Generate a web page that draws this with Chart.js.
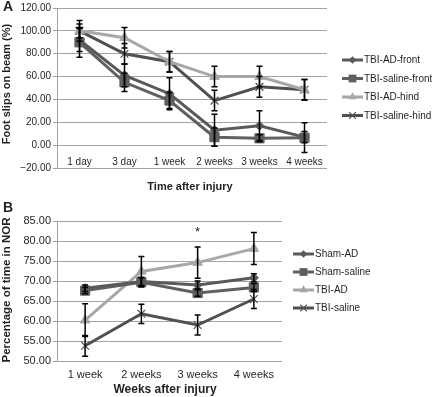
<!DOCTYPE html>
<html><head><meta charset="utf-8">
<script src="https://cdn.jsdelivr.net/npm/chart.js@4"></script>
<style>
html,body{margin:0;padding:0;background:#fff;}
#wrap{position:relative;width:432px;height:397px;overflow:hidden;}
#ca{position:absolute;left:0;top:0;}
#cb{position:absolute;left:0;top:200px;}
</style></head><body><div id="wrap"><canvas id="ca" width="432" height="200"></canvas><canvas id="cb" width="432" height="197"></canvas></div>
<script>
// ---------- Panel A data ----------
const catsA = ['1 day', '3 day', '1 week', '2 weeks', '3 weeks', '4 weeks'];
const labelsA = ['TBI-AD-front', 'TBI-saline-front', 'TBI-AD-hind', 'TBI-saline-hind'];
const tbiAdFront = [92, 61, 45, 13, 17, 7];
const tbiAdFrontErr = [10, 10, 14, 14, 13, 5];
const tbiSalineFront = [90, 55, 39, 7, 6, 6.5];
const tbiSalineFrontErr = [13, 8, 7, 8, 3, 13];
const tbiAdHind = [100, 94, 73, 60, 60, 48.5];
const tbiAdHindErr = [6, 9, 9, 9, 9, 9];
const tbiSalineHind = [100, 80, 73, 39, 51, 48.5];
const tbiSalineHindErr = [9, 9, 9, 9, 9, 9];
const yTicksA = [-20, 0, 20, 40, 60, 80, 100, 120];

// ---------- Panel B data ----------
const catsB = ['1 week', '2 weeks', '3 weeks', '4 weeks'];
const labelsB = ['Sham-AD', 'Sham-saline', 'TBI-AD', 'TBI-saline'];
const shamAd = [68.2, 69.9, 69.0, 70.8];
const shamAdErr = [0.8, 1.0, 1.0, 1.0];
const shamSaline = [67.6, 69.7, 67.0, 68.4];
const shamSalineErr = [0.8, 1.2, 0.8, 1.0];
const tbiAd = [60.2, 72.4, 74.6, 78.1];
const tbiAdErr = [4.1, 3.7, 3.9, 4.0];
const tbiSaline = [53.8, 61.8, 59.0, 65.5];
const tbiSalineErr = [2.6, 2.4, 2.5, 2.4];
const yTicksB = [50, 55, 60, 65, 70, 75, 80, 85];
const sigMarksB = [{cat: '3 weeks', value: 82.8, text: '*'}];

// ---------- styles ----------
const C_DIAMOND = '#5a5a5a', C_SQUARE = '#606060', C_TRI = '#a7a7a7', C_X = '#505050';
const TXT = '#231f20';
const GRID = '#a3a3a3';
const FONT = '"Liberation Sans", Arial, sans-serif';

function fmtTick(v) {
  const s = Math.abs(v).toFixed(2);
  return v < 0 ? '\u2212' + s : s;
}

function ds(label, data, err, color, style, radius, bw) {
  return {
    label, data, err,
    borderColor: color, backgroundColor: color,
    pointStyle: style, pointRadius: radius, pointHoverRadius: radius,
    pointBorderColor: color, pointBackgroundColor: color,
    pointBorderWidth: bw || 1,
    borderWidth: 3, tension: 0, fill: false
  };
}

function drawMarker(ctx, style, x, y, r, color) {
  ctx.save();
  ctx.fillStyle = color; ctx.strokeStyle = color; ctx.lineWidth = 1;
  ctx.beginPath();
  if (style === 'rectRot') {
    ctx.moveTo(x, y - r); ctx.lineTo(x + r, y); ctx.lineTo(x, y + r); ctx.lineTo(x - r, y); ctx.closePath(); ctx.fill();
  } else if (style === 'rect') {
    const s = r * Math.SQRT1_2; ctx.rect(x - s, y - s, 2 * s, 2 * s); ctx.fill();
  } else if (style === 'triangle') {
    ctx.moveTo(x, y - r); ctx.lineTo(x + r * 0.866, y + r * 0.5); ctx.lineTo(x - r * 0.866, y + r * 0.5); ctx.closePath(); ctx.fill();
  } else if (style === 'crossRot') {
    const s = r * Math.SQRT1_2; ctx.lineWidth = 1.2;
    ctx.moveTo(x - s, y - s); ctx.lineTo(x + s, y + s); ctx.moveTo(x + s, y - s); ctx.lineTo(x - s, y + s); ctx.stroke();
  }
  ctx.restore();
}

const panelPlugin = {
  id: 'panel',
  afterDatasetsDraw(chart) {
    const ctx = chart.ctx, ys = chart.scales.y;
    ctx.save();
    ctx.strokeStyle = '#000'; ctx.lineWidth = 1.5;
    chart.data.datasets.forEach((d, i) => {
      const meta = chart.getDatasetMeta(i);
      d.data.forEach((v, j) => {
        const e = d.err[j]; if (!e) return;
        const x = meta.data[j].x;
        const t = ys.getPixelForValue(v + e), b = ys.getPixelForValue(v - e);
        ctx.beginPath();
        ctx.moveTo(x, t); ctx.lineTo(x, b);
        ctx.moveTo(x - 3, t); ctx.lineTo(x + 3, t);
        ctx.moveTo(x - 3, b); ctx.lineTo(x + 3, b);
        ctx.stroke();
      });
    });
    ctx.restore();
  },
  afterDraw(chart, args, opts) {
    const ctx = chart.ctx;
    // legend
    const lg = opts.legend;
    chart.data.datasets.forEach((d, i) => {
      const y = lg.y + i * lg.dy;
      ctx.save();
      ctx.strokeStyle = d.borderColor; ctx.lineWidth = 3;
      ctx.beginPath(); ctx.moveTo(lg.x, y); ctx.lineTo(lg.x + 21, y); ctx.stroke();
      ctx.restore();
      drawMarker(ctx, d.pointStyle, lg.x + 10.5, y, d.pointRadius * 0.85, d.borderColor);
      ctx.save();
      ctx.fillStyle = TXT; ctx.font = '10px ' + FONT; ctx.textBaseline = 'middle'; ctx.textAlign = 'left';
      ctx.fillText(d.label, lg.x + 22, y + 0.5);
      ctx.restore();
    });
    // significance marks
    (opts.sig || []).forEach(m => {
      const x = chart.scales.x.getPixelForValue(chart.data.labels.indexOf(m.cat));
      const y = chart.scales.y.getPixelForValue(m.value);
      ctx.save();
      ctx.fillStyle = TXT; ctx.font = '13px ' + FONT; ctx.textAlign = 'center'; ctx.textBaseline = 'middle';
      ctx.fillText(m.text, x, y + 3);
      ctx.restore();
    });
    // texts
    (opts.texts || []).forEach(t => {
      ctx.save();
      ctx.fillStyle = TXT; ctx.font = t.font; ctx.textAlign = t.align || 'center'; ctx.textBaseline = 'middle';
      ctx.translate(t.x, t.y);
      if (t.rot) ctx.rotate(t.rot);
      ctx.fillText(t.text, 0, 0);
      ctx.restore();
    });
  }
};

Chart.defaults.font.family = FONT;
Chart.defaults.font.size = 10;
Chart.defaults.color = TXT;

// ---------- Chart A ----------
new Chart(document.getElementById('ca'), {
  type: 'line',
  data: {
    labels: catsA,
    datasets: [
      ds(labelsA[0], tbiAdFront, tbiAdFrontErr, C_DIAMOND, 'rectRot', 4.5),
      ds(labelsA[1], tbiSalineFront, tbiSalineFrontErr, C_SQUARE, 'rect', 6.5),
      ds(labelsA[2], tbiAdHind, tbiAdHindErr, C_TRI, 'triangle', 5.5),
      ds(labelsA[3], tbiSalineHind, tbiSalineHindErr, C_X, 'crossRot', 5.5, 1.2)
    ]
  },
  options: {
    responsive: false, animation: false, devicePixelRatio: 1,
    layout: {padding: {left: 0, right: 105, top: 7, bottom: 32}},
    plugins: {
      legend: {display: false}, tooltip: {enabled: false},
      panel: {
        legend: {x: 342, y: 60, dy: 18.5},
        texts: [
          {text: 'A', x: 8, y: 7, font: 'bold 14px ' + FONT},
          {text: 'Foot slips on beam (%)', x: 7, y: 84, rot: -Math.PI / 2, font: 'bold 11px ' + FONT},
          {text: 'Time after injury', x: 190, y: 187, font: 'bold 11px ' + FONT}
        ]
      }
    },
    scales: {
      x: {
        type: 'category', offset: true,
        position: {y: 0},
        grid: {display: false, drawTicks: true, tickLength: 8},
        border: {display: false},
        ticks: {padding: 3, color: TXT, font: {size: 10}, maxRotation: 0, autoSkip: false}
      },
      y: {
        min: -20, max: 120,
        afterBuildTicks: s => { s.ticks = yTicksA.map(v => ({value: v})); },
        afterFit: s => { s.width = 57; },
        grid: {color: GRID, lineWidth: 1, tickLength: 4},
        border: {display: true, color: GRID},
        ticks: {padding: 2, color: TXT, font: {size: 10}, callback: v => fmtTick(v)}
      }
    }
  },
  plugins: [panelPlugin]
});

// ---------- Chart B ----------
new Chart(document.getElementById('cb'), {
  type: 'line',
  data: {
    labels: catsB,
    datasets: [
      ds(labelsB[0], shamAd, shamAdErr, C_DIAMOND, 'rectRot', 4.5),
      ds(labelsB[1], shamSaline, shamSalineErr, C_SQUARE, 'rect', 6.5),
      ds(labelsB[2], tbiAd, tbiAdErr, C_TRI, 'triangle', 5.5),
      ds(labelsB[3], tbiSaline, tbiSalineErr, C_X, 'crossRot', 5.5, 1.2)
    ]
  },
  options: {
    responsive: false, animation: false, devicePixelRatio: 1,
    layout: {padding: {left: 0, right: 150, top: 21, bottom: 0}},
    plugins: {
      legend: {display: false}, tooltip: {enabled: false},
      panel: {
        legend: {x: 293, y: 54, dy: 18},
        sig: sigMarksB,
        texts: [
          {text: 'B', x: 8, y: 8, font: 'bold 14px ' + FONT},
          {text: 'Percentage of time in NOR', x: 7, y: 90, rot: -Math.PI / 2, font: 'bold 11.5px ' + FONT},
          {text: 'Weeks after injury', x: 165, y: 190, font: 'bold 12px ' + FONT}
        ]
      }
    },
    scales: {
      x: {
        type: 'category', offset: true,
        grid: {display: false, drawTicks: true, tickLength: 4},
        border: {display: false},
        afterFit: s => { s.height = 36; },
        ticks: {padding: 3, color: TXT, font: {size: 11}, maxRotation: 0, autoSkip: false}
      },
      y: {
        min: 50, max: 85,
        afterBuildTicks: s => { s.ticks = yTicksB.map(v => ({value: v})); },
        afterFit: s => { s.width = 57; },
        grid: {color: GRID, lineWidth: 1, tickLength: 4},
        border: {display: true, color: GRID},
        ticks: {padding: 2, color: TXT, font: {size: 11}, callback: v => fmtTick(v)}
      }
    }
  },
  plugins: [panelPlugin]
});
</script></body></html>
